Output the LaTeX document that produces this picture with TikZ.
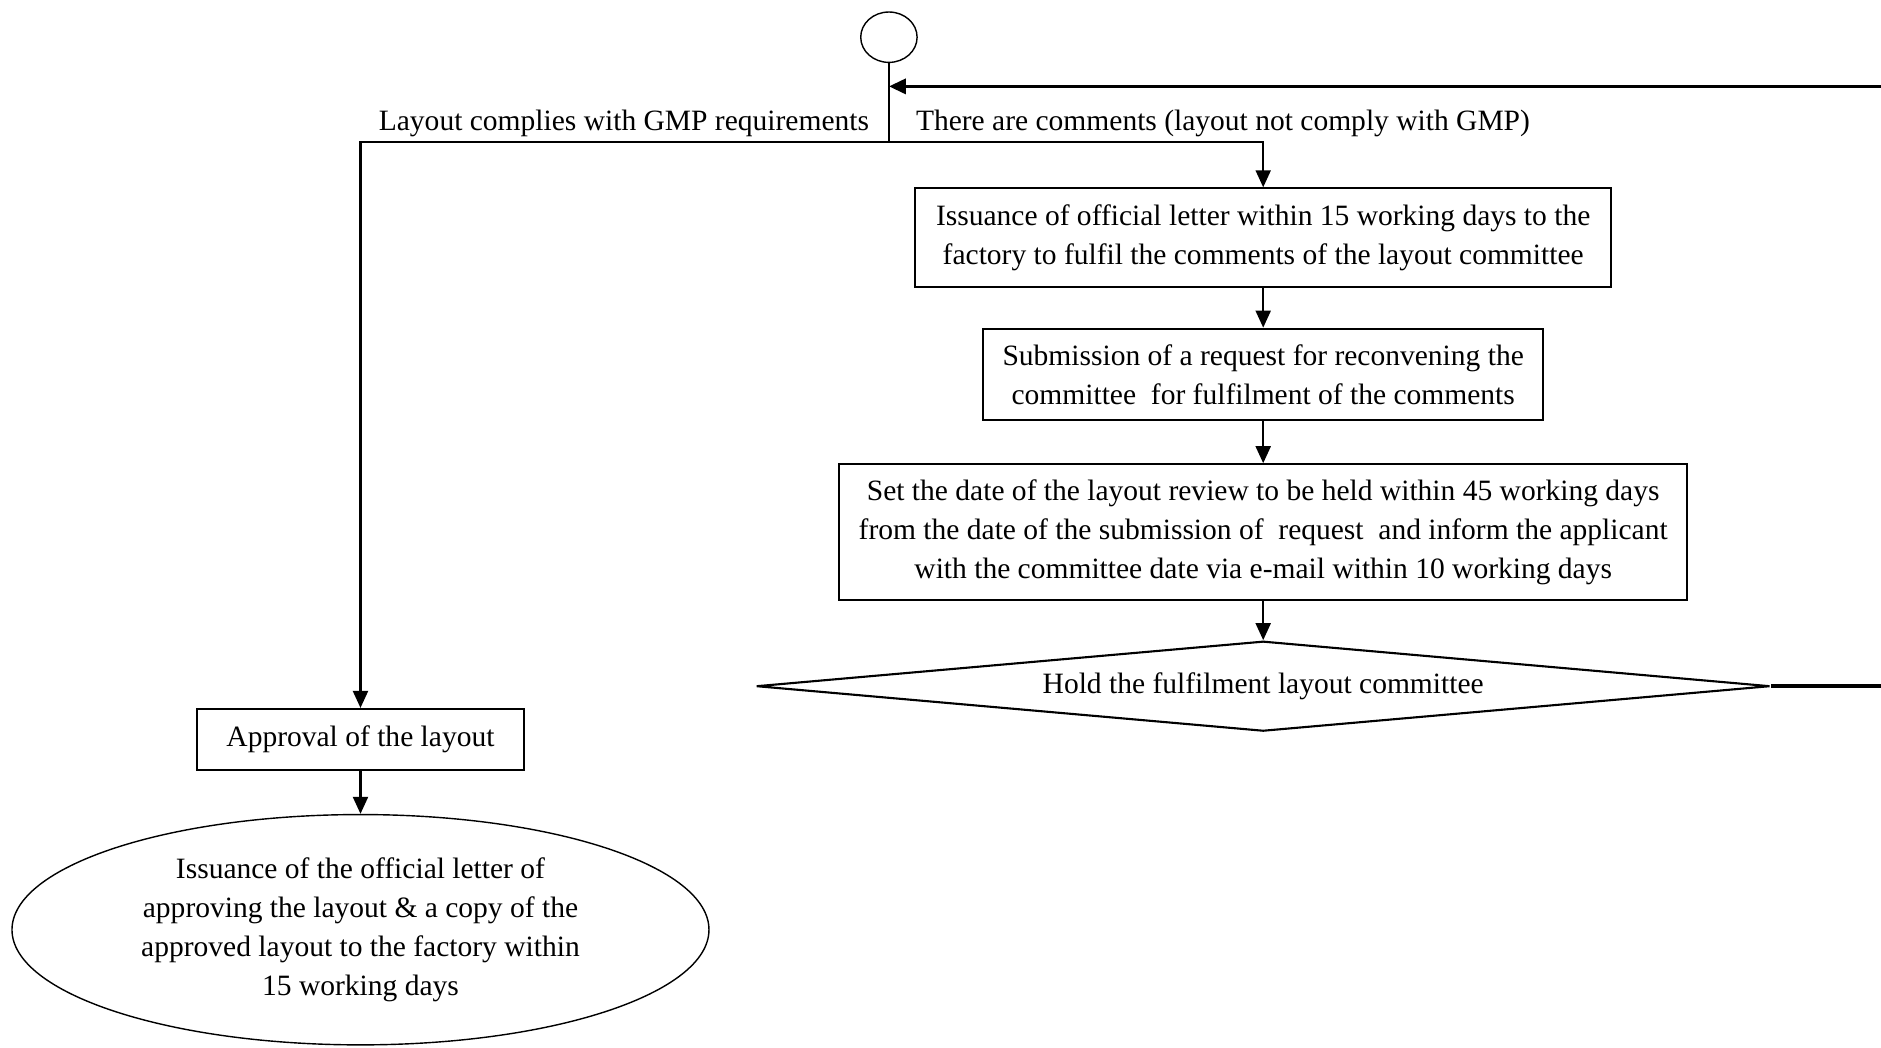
\documentclass[tikz,border=0pt]{standalone}
\usepackage{fontspec}
\setmainfont{Liberation Serif}
\usetikzlibrary{shapes.geometric,arrows.meta}

\begin{document}
\begin{tikzpicture}[draw/.append style={line width=0.6pt,black},
  box/.style={draw,rectangle,align=center,inner sep=0pt},
  flow/.style={-{Triangle[length=1.7mm,width=1.5mm]}},
  font=\fontsize{8.4}{11.1}\selectfont]
  \useasboundingbox(0,0)rectangle(18.816,-10.476);
  % start and the fork below it
  \node[draw,ellipse,minimum width=5.64mm,minimum height=5.04mm,inner sep=0pt,line width=0.4pt](start)at(8.892,-0.372){};
  \coordinate(fork)at(8.892,-1.416);
  \coordinate(back)at(8.892,-0.864);
  \coordinate(far)at(18.85,-0.864);
  % right branch
  \node[box,minimum width=6.96cm,minimum height=0.984cm](letter)at(12.636,-2.376){Issuance of official letter within 15 working days to the\\factory to fulfil the comments of the layout committee};
  \node[box,minimum width=5.604cm,minimum height=0.912cm](request)at(12.636,-3.744){Submission of a request for reconvening the\\committee\ \ for fulfilment of the comments};
  \node[box,minimum width=8.484cm,minimum height=1.356cm](date)at(12.636,-5.322){Set the date of the layout review to be held within 45 working days\\from the date of the submission of\ \ request\ \ and inform the applicant\\with the committee date via e-mail within 10 working days};
  \node[draw,diamond,aspect=11,inner sep=0pt,minimum width=10.14cm,minimum height=0.9cm](hold)at(12.636,-6.864){Hold the fulfilment layout committee};
  % left branch
  \node[box,minimum width=3.264cm,minimum height=0.612cm](approve)at(3.606,-7.398){Approval of the layout};
  \node[draw,ellipse,align=center,inner sep=0pt,minimum width=6.972cm,minimum height=2.304cm,line width=0.4pt](issue)at(3.606,-9.3){Issuance of the official letter of\\approving the layout \& a copy of the\\approved layout to the factory within\\15 working days};
  \node[anchor=east,inner sep=0pt](yes)at(8.7,-1.236){Layout complies with GMP requirements};
  \node[anchor=west,inner sep=0pt](no)at(9.156,-1.236){There are comments (layout not comply with GMP)};
  % connectors
  \draw(start)--(fork);
  \draw[flow](fork)-|(approve);
  \draw[flow](fork)-|(letter);
  \draw[flow](letter)--(request);
  \draw[flow](request)--(date);
  \draw[flow](date)--(hold);
  \draw[flow](approve)--(issue);
  \draw[flow,line width=1pt](hold)--(hold.east-|far)--(far)--(back);
\end{tikzpicture}
\end{document}
